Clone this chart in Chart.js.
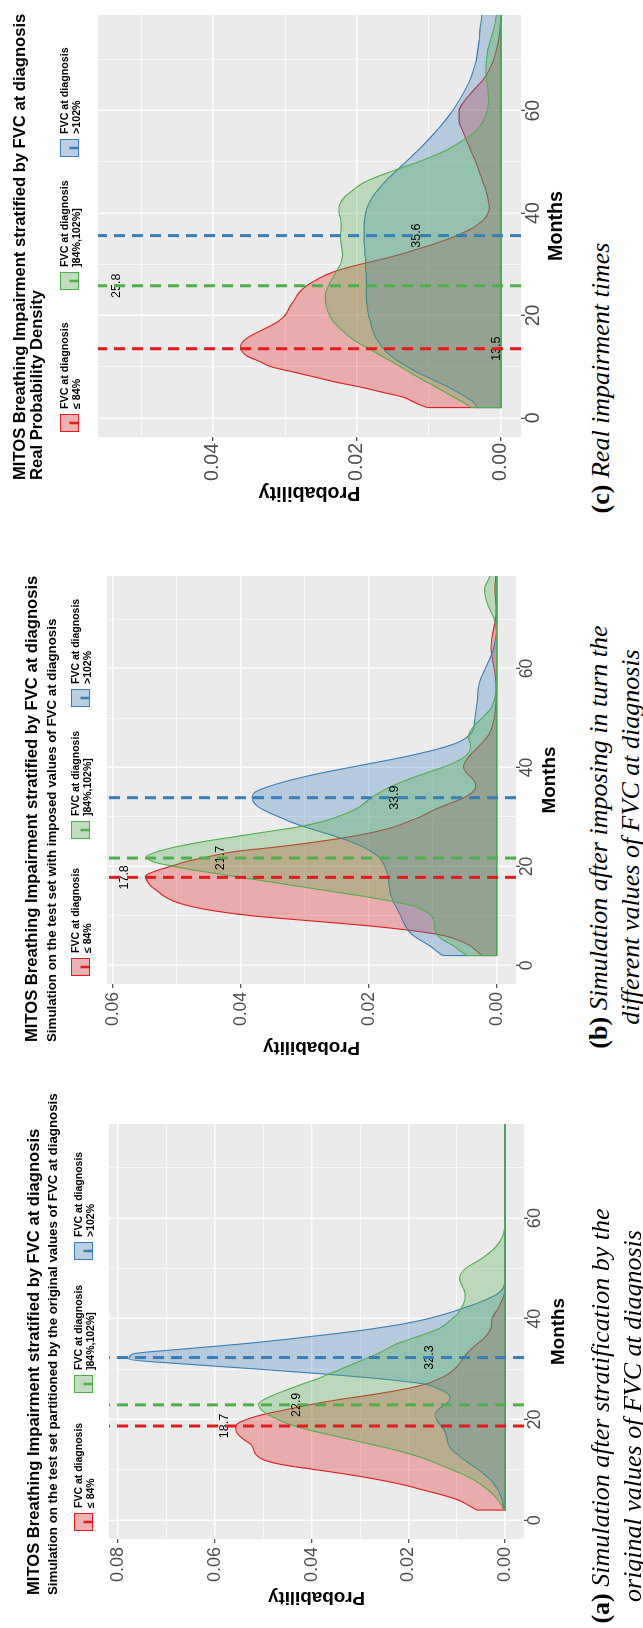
<!DOCTYPE html>
<html>
<head>
<meta charset="utf-8">
<script src="https://cdn.jsdelivr.net/npm/chart.js@4.4.1/dist/chart.umd.min.js"></script>
<style>
html, body { margin: 0; padding: 0; background: #fff; }
body { width: 643px; height: 1628px; position: relative; overflow: hidden; }
.panel { position: absolute; left: 0; height: 643px; transform-origin: 0 0; transform: rotate(-90deg); }
.panel canvas { position: absolute; left: 0; top: 0; }
.cap { position: absolute; width: 600px; font-family: "Liberation Serif", "Times New Roman", serif; font-size: 26px; line-height: 32px; text-align: center; white-space: nowrap; color: #000; }
.cap b { font-style: normal; }
</style>
</head>
<body>

<div class="panel" style="top:530px;width:530px">
  <canvas id="chartC" width="530" height="575"></canvas>
  <div class="cap" style="left:-148px;top:585px"><b>(c)</b> <i>Real impairment times</i></div>
</div>

<div class="panel" style="top:1075px;width:545px">
  <canvas id="chartB" width="545" height="575"></canvas>
  <div class="cap" style="left:-62px;top:583px"><b>(b)</b> <i>Simulation after imposing in turn the</i><br><i>different values of FVC at diagnosis</i></div>
</div>

<div class="panel" style="top:1628px;width:560px">
  <canvas id="chartA" width="560" height="575"></canvas>
  <div class="cap" style="left:-88px;top:585px"><b>(a)</b> <i>Simulation after stratification by the</i><br><i>original values of FVC at diagnosis</i></div>
</div>

<script>
Chart.defaults.font.family = '"Liberation Sans", Arial, sans-serif';

// months where the densities are sampled (1-month steps up to 50, then 2-month steps)
const months = [2,3,4,5,6,7,8,9,10,11,12,13,14,15,16,17,18,19,20,21,22,23,24,25,26,27,28,29,30,31,
  32,33,34,35,36,37,38,39,40,41,42,43,44,45,46,47,48,49,50,
  52,54,56,58,60,62,64,66,68,70,72,74,76,78,80];
const monthTicks = [0, 10, 20, 30, 40, 50, 60, 70];
const monthRange = [-3.75, 78.7];

const groupLabels = ['\u2264 84%', ']84%,102%]', '>102%'];
const lineColors = ['#E41A1C', '#4DAF4A', '#377EB8'];
const fillColors = ['rgba(228,26,28,0.3)', 'rgba(77,175,74,0.3)', 'rgba(55,126,184,0.3)'];

// (a) test set partitioned by original FVC
const redA = [.0059,.0077,.0097,.013,.017,.021,.026,.032,.039,.046,
  .050,.0515,.052,.0525,.054,.0552,.0557,.0555,.0535,.050,
  .045,.040,.034,.027,.021,.0165,.0138,.0118,.0105,.0095,
  .0088,.0080,.0070,.0058,.0045,.0036,.0030,.0028,.0027,.0022,
  .0015,.0010,.0005,.0002,.0001,0,0,0,0,
  0,0,0,0,0,0,0,0,0,0,0,0,0,0,0];
const greenA = [.0003,.0008,.0015,.0024,.0035,.0049,.0065,.0085,.011,.0135,
  .016,.0192,.023,.0275,.032,.0365,.041,.0445,.047,.049,
  .0505,.051,.0498,.0475,.0448,.042,.039,.0365,.034,.0315,
  .029,.0265,.0245,.0225,.0195,.0165,.0138,.0122,.011,.0098,
  .0092,.0086,.0083,.0083,.0086,.0091,.0094,.0091,.0082,
  .0048,.0022,.0007,.0001,0,0,0,0,0,0,0,0,0,0,0];
const blueA = [.0002,.0004,.0006,.001,.0015,.0022,.003,.0042,.0055,.007,
  .0085,.0098,.011,.0117,.012,.0122,.0127,.0135,.0142,.0145,
  .0138,.0124,.0114,.0117,.0135,.0165,.025,.037,.051,.066,
  .0778,.0770,.0665,.0545,.0445,.0355,.0275,.021,.016,.0122,
  .009,.006,.0035,.0015,.0005,.0001,0,0,0,
  0,0,0,0,0,0,0,0,0,0,0,0,0,0,0];
const meansA = [18.7, 22.9, 32.3];
const meanLabelYA = [0.058, 0.0431, 0.0157];
const probTicksA = [0, 0.01, 0.02, 0.03, 0.04, 0.05, 0.06, 0.07, 0.08];
const probRangeA = [-0.0039, 0.0819];

// (b) test set with imposed FVC values
const redB = [.0024,.0032,.0042,.0058,.0082,.013,.020,.029,.038,.044,
  .048,.0505,.052,.053,.054,.0546,.0549,.0535,.051,.0485,
  .045,.041,.034,.028,.023,.019,.016,.014,.012,.0105,
  .0088,.0068,.005,.0038,.0033,.0034,.004,.0048,.0052,.005,
  .0045,.0038,.003,.0023,.0016,.0011,.0008,.0006,.0004,
  .0002,.0001,.0001,.0002,.0004,.0007,.0009,.0008,.0005,.0002,.0001,.0002,.0003,.0002,.0001];
const greenB = [.0047,.0058,.0068,.0082,.0092,.0096,.0097,.0098,.0102,.0112,
  .013,.0165,.021,.026,.031,.036,.041,.046,.0505,.0538,
  .0547,.053,.050,.046,.041,.036,.031,.0275,.025,.023,
  .0215,.0205,.0195,.0182,.0168,.015,.013,.0108,.0085,.0066,
  .0052,.0044,.0041,.0042,.0044,.0043,.0038,.0031,.0023,
  .0009,.0003,.0001,0,0,0,0,0,.0001,.0004,.0011,.0017,.0019,.0013,.0006];
const blueB = [.0085,.0095,.0105,.0118,.013,.0138,.0143,.0147,.015,.0154,
  .0158,.0162,.0165,.0167,.0168,.0169,.017,.0172,.0175,.0179,
  .0185,.0196,.021,.0228,.025,.0275,.030,.0322,.034,.0358,
  .0372,.038,.0382,.0378,.036,.0335,.0305,.027,.023,.019,
  .015,.0115,.0085,.0062,.0048,.004,.0036,.0035,.0034,
  .0032,.003,.0029,.0025,.0018,.0011,.0005,.0002,0,0,0,0,0,0,0];
const meansB = [17.8, 21.7, 33.9];
const meanLabelYB = [0.0582, 0.0431, 0.0159];
const probTicksB = [0, 0.01, 0.02, 0.03, 0.04, 0.05, 0.06];
const probRangeB = [-0.003, 0.0609];

// (c) real impairment times
const redC = [.0103,.012,.0135,.0165,.0195,.023,.026,.029,.032,.0335,
  .0352,.036,.0362,.0358,.0348,.0334,.032,.0308,.030,.0296,
  .0292,.0287,.0283,.0277,.0268,.0256,.0242,.0222,.0195,.0165,
  .0138,.0115,.0092,.0072,.0055,.004,.003,.0022,.0018,.0016,
  .0017,.0018,.002,.0022,.0025,.0027,.003,.0032,.0035,
  .0041,.0047,.0053,.0058,.0058,.005,.0038,.0025,.0016,.001,.0006,.0003,.0001,0,0];
const greenC = [.0041,.0052,.0065,.0078,.009,.0103,.0116,.0128,.014,.0152,
  .0165,.0177,.019,.0202,.0212,.022,.0228,.0234,.0238,.0241,
  .0243,.0244,.0244,.0242,.0239,.0235,.0231,.0227,.0223,.0221,
  .022,.0221,.0222,.0223,.0223,.0222,.0222,.0223,.0225,.0225,
  .0223,.0218,.021,.0201,.019,.0174,.0155,.0135,.0115,
  .008,.0055,.0035,.0024,.0019,.0017,.0018,.002,.0021,.002,.0018,.0014,.001,.0007,.0005];
const blueC = [.0033,.0038,.0048,.006,.0073,.0088,.0103,.0118,.013,.0142,
  .0152,.016,.0166,.0171,.0175,.0178,.018,.0182,.0184,.0185,
  .0186,.0187,.0187,.0187,.0187,.0187,.0187,.0188,.0188,.0188,
  .0189,.0189,.019,.019,.019,.019,.019,.0189,.0188,.0186,
  .0183,.0179,.0174,.0168,.0162,.0155,.0147,.014,.0132,
  .0117,.0103,.009,.0078,.0067,.0058,.005,.0043,.0038,.0034,.0032,.003,.0029,.0027,.0026];
const meansC = [13.5, 25.8, 35.6];
const meanLabelYC = [0.0006, 0.0534, 0.0117];
const probTicksC = [0, 0.01, 0.02, 0.03, 0.04, 0.05];
const probRangeC = [-0.0028, 0.056];

const mainTitle = 'MITOS Breathing Impairment stratified by FVC at diagnosis';

const CANVAS_H = 575;
const SANS = '"Liberation Sans", Arial, sans-serif';

// grey panel background
const panelBg = {
  id: 'panelBg',
  beforeDraw(chart) {
    const a = chart.chartArea;
    const ctx = chart.ctx;
    ctx.save();
    ctx.fillStyle = '#EBEBEB';
    ctx.fillRect(a.left, a.top, a.right - a.left, a.bottom - a.top);
    ctx.restore();
  }
};

// titles and the fill/vline legend above the panel
const header = {
  id: 'header',
  afterDraw(chart, args, opts) {
    const ctx = chart.ctx;
    ctx.save();
    ctx.fillStyle = '#000';
    ctx.textAlign = 'left';
    ctx.textBaseline = 'alphabetic';
    opts.lines.forEach(l => {
      ctx.font = 'bold ' + l.size + 'px ' + SANS;
      ctx.fillText(l.text, opts.x, l.base);
    });
    const w = 18, h = 19, top = opts.keyTop;
    for (let i = 0; i < 3; i++) {
      const u = opts.keyU[i];
      ctx.fillStyle = '#F2F2F2';
      ctx.fillRect(u, top, w, h);
      ctx.fillStyle = fillColors[i];
      ctx.fillRect(u, top, w, h);
      ctx.strokeStyle = lineColors[i];
      ctx.lineWidth = 1;
      ctx.strokeRect(u + 0.5, top + 0.5, w - 1, h - 1);
      ctx.lineWidth = 2.5;
      ctx.beginPath();
      ctx.moveTo(u + w / 2, top + h / 2);
      ctx.lineTo(u + w / 2, top + h - 1);
      ctx.stroke();
      ctx.fillStyle = '#000';
      ctx.font = 'bold ' + opts.keyFont + 'px ' + SANS;
      ctx.textBaseline = 'middle';
      ctx.fillText('FVC at diagnosis', u + w + 5, top + 5);
      ctx.fillText(groupLabels[i], u + w + 5, top + 17);
      ctx.textBaseline = 'alphabetic';
    }
    ctx.restore();
  }
};

// mean values written next to the dashed lines, drawn under the lines
const meanLabels = {
  id: 'meanLabels',
  afterDatasetDraw(chart, args, opts) {
    if (chart.data.datasets[args.index].kind !== 'lastCurve') return;
    const ctx = chart.ctx;
    const xs = chart.scales.x, ys = chart.scales.y;
    ctx.save();
    ctx.fillStyle = '#000';
    ctx.font = '12.5px ' + SANS;
    ctx.textAlign = 'center';
    ctx.textBaseline = 'middle';
    opts.means.forEach((m, i) => {
      ctx.fillText(m.toFixed(1), xs.getPixelForValue(m), ys.getPixelForValue(opts.labelY[i]));
    });
    ctx.restore();
  }
};

function makePanel(id, p) {
  const L = p.layout;
  const canvas = document.getElementById(id);
  const W = canvas.width;
  const datasets = [];
  // polygons are painted red, blue, green as in the original plot
  [0, 2, 1].forEach((g, k) => {
    const vals = p.series[g];
    datasets.push({
      data: months.map((m, i) => ({ x: m, y: vals[i] })),
      borderColor: lineColors[g],
      backgroundColor: fillColors[g],
      borderWidth: 1.1,
      fill: 'origin',
      pointRadius: 0,
      cubicInterpolationMode: 'monotone'
    });
    datasets.push({
      kind: k === 2 ? 'lastCurve' : 'edge',
      data: [
        { x: months[0], y: vals[0] },
        { x: months[0], y: 0 },
        { x: months[months.length - 1], y: 0 }
      ],
      borderColor: lineColors[g],
      borderWidth: 1.1,
      fill: false,
      pointRadius: 0,
      tension: 0
    });
  });
  p.means.forEach((m, g) => {
    datasets.push({
      data: [{ x: m, y: p.probRange[0] }, { x: m, y: p.probRange[1] }],
      borderColor: lineColors[g],
      borderWidth: 3,
      borderDash: [11, 7],
      fill: false,
      pointRadius: 0,
      tension: 0
    });
  });
  datasets.forEach((d, i) => { d.order = datasets.length - i; });

  const headerLines = p.titles.map((t, i) => ({ text: t, size: p.titleSizes[i], base: L.titleBase[i] }));
  const half = L.axisTitleSize * 0.6;

  return new Chart(canvas, {
    type: 'line',
    data: { datasets },
    options: {
      responsive: false,
      animation: false,
      events: [],
      layout: { padding: { left: 0, top: L.top, right: W - L.right, bottom: 0 } },
      plugins: {
        legend: { display: false },
        tooltip: { enabled: false },
        header: { x: L.titleU, lines: headerLines, keyTop: L.keyTop, keyU: L.keyU, keyFont: L.keyFont },
        meanLabels: { means: p.means, labelY: p.labelY }
      },
      scales: {
        x: {
          type: 'linear',
          min: monthRange[0],
          max: monthRange[1],
          afterBuildTicks: s => { s.ticks = monthTicks.map(v => ({ value: v })); },
          afterFit: s => { s.height = CANVAS_H - L.bottom; },
          border: { display: false },
          grid: {
            color: '#FFFFFF',
            lineWidth: c => (c.tick && c.tick.value % 20 === 0) ? 1.4 : 0.7,
            tickLength: 4,
            tickWidth: 1.1,
            tickColor: c => (c.tick && c.tick.value % 20 === 0) ? '#333333' : 'rgba(0,0,0,0)'
          },
          ticks: {
            autoSkip: false,
            maxRotation: 0,
            minRotation: 0,
            padding: -1.5,
            color: '#4D4D4D',
            font: { size: L.tickSize, lineHeight: 1 },
            callback: v => (v % 20 === 0 ? String(v) : '')
          },
          title: {
            display: true,
            text: 'Months',
            color: '#000',
            font: { size: L.axisTitleSize, weight: 'bold', lineHeight: 1.2 },
            padding: { top: 0, bottom: CANVAS_H - half - L.bottom - L.monthsTitle }
          }
        },
        y: {
          type: 'linear',
          min: p.probRange[0],
          max: p.probRange[1],
          afterBuildTicks: s => { s.ticks = p.probTicks.map(v => ({ value: v })); },
          afterFit: s => { s.width = L.left; },
          border: { display: false },
          grid: {
            color: '#FFFFFF',
            lineWidth: c => (c.tick && Math.round(c.tick.value * 100) % 2 === 0) ? 1.4 : 0.7,
            tickLength: 4,
            tickWidth: 1.1,
            tickColor: c => (c.tick && Math.round(c.tick.value * 100) % 2 === 0) ? '#333333' : 'rgba(0,0,0,0)'
          },
          ticks: {
            autoSkip: false,
            padding: L.yTickPad,
            color: '#4D4D4D',
            font: { size: L.tickSize, lineHeight: 1 },
            callback: v => (Math.round(v * 100) % 2 === 0 ? v.toFixed(2) : '')
          },
          title: {
            display: true,
            text: 'Probability',
            color: '#000',
            font: { size: L.axisTitleSize, weight: 'bold', lineHeight: 1.2 },
            padding: { top: L.probTitle - half, bottom: 0 }
          }
        }
      }
    },
    plugins: [panelBg, header, meanLabels]
  });
}

makePanel('chartA', {
  series: [redA, greenA, blueA],
  means: meansA,
  labelY: meanLabelYA,
  probTicks: probTicksA,
  probRange: probRangeA,
  titles: [mainTitle, 'Simulation on the test set partitioned by the original values of FVC at diagnosis'],
  titleSizes: [16.6, 13.3],
  layout: { left: 89, right: 504, top: 109, bottom: 524, titleU: 33, titleBase: [38.5, 57],
            keyTop: 74, keyU: [97, 235, 368], keyFont: 10.5, yTickPad: 4, probTitle: 31, monthsTitle: 35,
            tickSize: 18, axisTitleSize: 18.8 }
});

makePanel('chartB', {
  series: [redB, greenB, blueB],
  means: meansB,
  labelY: meanLabelYB,
  probTicks: probTicksB,
  probRange: probRangeB,
  titles: [mainTitle, 'Simulation on the test set with imposed values of FVC at diagnosis'],
  titleSizes: [16.6, 13.3],
  layout: { left: 91, right: 499, top: 107, bottom: 516, titleU: 33, titleBase: [37, 56],
            keyTop: 71, keyU: [99, 236, 368], keyFont: 10.5, yTickPad: 4, probTitle: 28, monthsTitle: 34,
            tickSize: 17.5, axisTitleSize: 18.8 }
});

makePanel('chartC', {
  series: [redC, greenC, blueC],
  means: meansC,
  labelY: meanLabelYC,
  probTicks: probTicksC,
  probRange: probRangeC,
  titles: [mainTitle, 'Real Probability Density'],
  titleSizes: [16.6, 16.6],
  layout: { left: 93, right: 515, top: 98, bottom: 521, titleU: 50, titleBase: [24.5, 41.5],
            keyTop: 60, keyU: [98, 240, 373], keyFont: 10.7, yTickPad: 2, probTitle: 38, monthsTitle: 36,
            tickSize: 19.5, axisTitleSize: 19.7 }
});
</script>
</body>
</html>
